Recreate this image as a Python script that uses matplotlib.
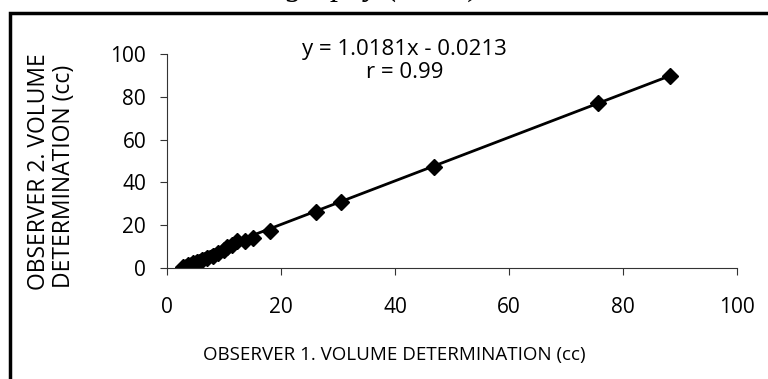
import matplotlib.pyplot as plt
from matplotlib.patches import Rectangle
import numpy as np

# observer volume determinations (cc)
obs1 = [2.8, 3.6, 4.5, 5.3, 6.1, 7.0, 8.0, 9.0, 10.0, 10.6, 11.4, 12.3, 13.6, 15.0,
        18.1, 26.2, 30.5, 46.8, 75.6, 88.3]
obs2 = [0.6, 1.3, 2.2, 3.0, 3.8, 4.8, 5.8, 6.8, 8.2, 9.6, 10.6, 12.4, 12.8, 14.0,
        17.2, 26.1, 30.7, 47.3, 76.9, 89.6]
slope = 1.0181
intercept = -0.0213
eq_text = "y = 1.0181x - 0.0213"
r_text = "r = 0.99"
xticks = [0, 20, 40, 60, 80, 100]
yticks = [0, 20, 40, 60, 80, 100]

W, H = 768, 379
fig = plt.figure(figsize=(W / 100, H / 100), dpi=100)
plt.rcParams['font.family'] = ['Open Sans', 'DejaVu Sans']

# outer frame, runs off the right and bottom of the picture
fig.patches.append(Rectangle((10 / W, -0.1), 1.2, 1 - 13 / H + 0.1, transform=fig.transFigure,
                             fill=False, edgecolor='black', linewidth=2.5))
# caption above, mostly cut off by the top edge
fig.text(480 / W, 1 + 5.5 / H, "Ultrasonography (n=20)",
         ha='right', va='baseline', fontsize=23.5, family='Liberation Serif', style='italic')

ax = fig.add_axes([167 / W, 1 - 268 / H, (737 - 167) / W, (268 - 54) / H])
xs = np.array([min(obs1), max(obs1)])
ax.plot(xs, slope * xs + intercept, color='black', linewidth=2)
ax.plot(obs1, obs2, linestyle='none', marker='D', markersize=8, color='black')

ax.set_xlim(0, 100)
ax.set_ylim(0, 100)
ax.set_xticks(xticks)
ax.set_yticks(yticks)
ax.spines['top'].set_visible(False)
ax.spines['right'].set_visible(False)
for s in ['left', 'bottom']:
    ax.spines[s].set_color('#333333')
ax.tick_params(direction='out', length=5, color='#333333', labelsize=15)
ax.tick_params(axis='y', pad=10)
ax.tick_params(axis='x', pad=16)

fig.text(394 / W, 1 - 355 / H, "OBSERVER 1. VOLUME DETERMINATION (cc)",
         ha='center', va='center', fontsize=13.5)
fig.text(39 / W, 1 - 172 / H, "OBSERVER 2. VOLUME", rotation=90, ha='center', va='center', fontsize=16.5)
fig.text(64 / W, 1 - 176 / H, "DETERMINATION (cc)", rotation=90, ha='center', va='center', fontsize=16.5)

fig.text(404 / W, 1 - 50 / H, eq_text, ha='center', va='center', fontsize=16)
fig.text(405 / W, 1 - 73 / H, r_text, ha='center', va='center', fontsize=16)

fig.savefig('out.png', dpi=100)
